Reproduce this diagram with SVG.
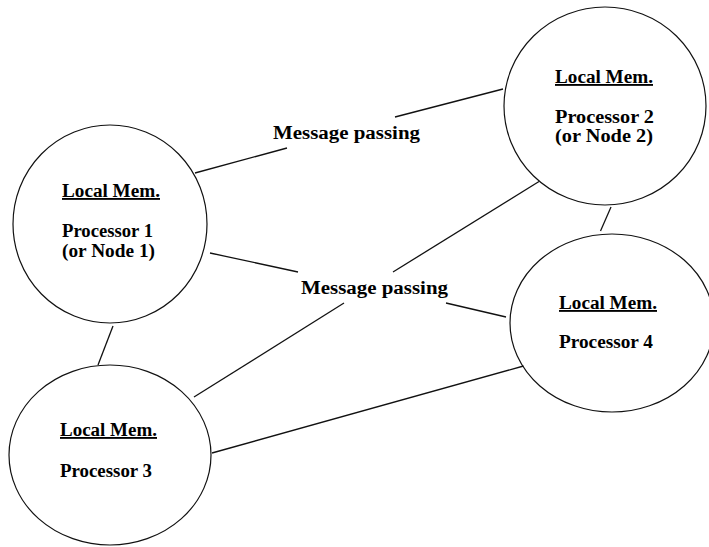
<svg xmlns="http://www.w3.org/2000/svg" width="709" height="547" viewBox="0 0 709 547">
<style>
.n{fill:none;stroke:#111;stroke-width:1.2}
.c line{stroke:#111;stroke-width:1.3}
text{font-family:"Liberation Serif","Times New Roman",serif;font-weight:bold;font-size:18.5px;fill:#000}
.u{text-decoration:underline}
</style>
<rect width="709" height="547" fill="#fff"/>
<g class="c" id="connectors">
<line x1="195" y1="173" x2="287" y2="148"/>
<line x1="395" y1="117" x2="503" y2="89"/>
<line x1="210" y1="253" x2="298" y2="272"/>
<line x1="393" y1="272" x2="539" y2="181.5"/>
<line x1="446" y1="303" x2="506" y2="317"/>
<line x1="344" y1="303" x2="194" y2="397"/>
<line x1="212" y1="453" x2="523.5" y2="366"/>
<line x1="113" y1="326" x2="98" y2="365"/>
<line x1="611" y1="207" x2="600.5" y2="231"/>
</g>
<g id="node1">
<ellipse class="n" cx="110" cy="224" rx="97" ry="99"/>
<text class="u" x="62" y="197" textLength="98" lengthAdjust="spacingAndGlyphs">Local Mem.</text>
<text x="62" y="237" textLength="91" lengthAdjust="spacingAndGlyphs">Processor 1</text>
<text x="62" y="256.5" textLength="93" lengthAdjust="spacingAndGlyphs">(or Node 1)</text>
</g>
<g id="node2">
<ellipse class="n" cx="605" cy="106" rx="101" ry="99"/>
<text class="u" x="555" y="83" textLength="98" lengthAdjust="spacingAndGlyphs">Local Mem.</text>
<text x="555" y="122.5" textLength="99" lengthAdjust="spacingAndGlyphs">Processor 2</text>
<text x="555" y="141.5" textLength="98" lengthAdjust="spacingAndGlyphs">(or Node 2)</text>
</g>
<g id="node3">
<ellipse class="n" cx="110" cy="455" rx="101" ry="90"/>
<text class="u" x="60" y="436" textLength="97" lengthAdjust="spacingAndGlyphs">Local Mem.</text>
<text x="60" y="477" textLength="92" lengthAdjust="spacingAndGlyphs">Processor 3</text>
</g>
<g id="node4">
<ellipse class="n" cx="612" cy="323" rx="102" ry="89"/>
<text class="u" x="559" y="309" textLength="98" lengthAdjust="spacingAndGlyphs">Local Mem.</text>
<text x="559" y="348" textLength="94" lengthAdjust="spacingAndGlyphs">Processor 4</text>
</g>
<g id="labels">
<text x="273" y="139" textLength="147" lengthAdjust="spacingAndGlyphs">Message passing</text>
<text x="301" y="294" textLength="147" lengthAdjust="spacingAndGlyphs">Message passing</text>
</g>
</svg>
